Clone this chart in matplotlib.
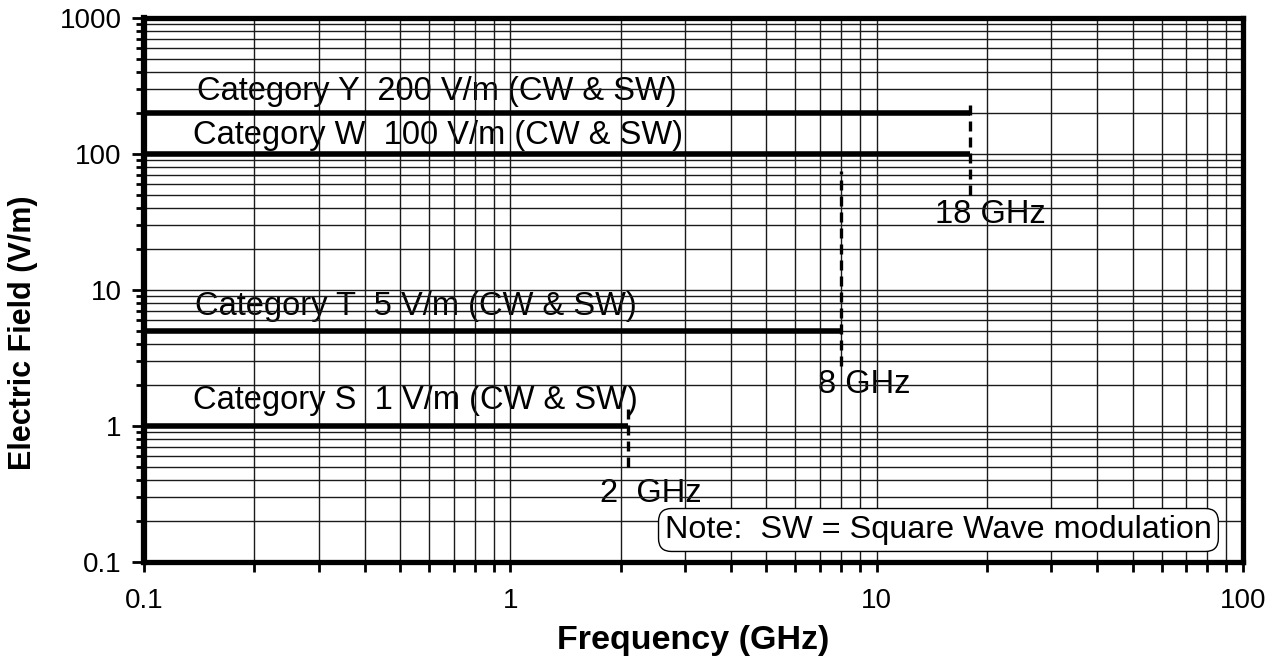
import matplotlib
matplotlib.use("Agg")
import matplotlib.pyplot as plt
from matplotlib.ticker import LogLocator, FixedLocator, FixedFormatter, NullFormatter

plt.rcParams['font.family'] = ['Liberation Sans', 'DejaVu Sans']

# Data
categories = ["Category Y  200 V/m (CW & SW)", "Category W  100 V/m (CW & SW)",
              "Category T  5 V/m (CW & SW)", "Category S  1 V/m (CW & SW)"]
field_levels = [200, 100, 5, 1]
freq_start = [0.1, 0.1, 0.1, 0.1]
freq_end = [18, 18, 8, 2.1]
# dashed cut-off markers: frequency, low and high field
cutoff_freq = [18, 8, 2.1]
cutoff_low = [50, 2.75, 0.5]
cutoff_high = [240, 75, 1.35]
cutoff_labels = ["18 GHz", "8 GHz", "2  GHz"]
x_ticks = [0.1, 1, 10, 100]
x_tick_labels = ["0.1", "1", "10", "100"]
y_ticks = [0.1, 1, 10, 100, 1000]
y_tick_labels = ["0.1", "1", "10", "100", "1000"]

fig = plt.figure(figsize=(12.79, 6.62), dpi=100)
ax = fig.add_axes([144/1279, 100/662, 1099/1279, 544/662])
ax.set_xscale('log')
ax.set_yscale('log')
ax.set_xlim(0.1, 100)
ax.set_ylim(0.1, 1000)

ax.xaxis.set_major_locator(FixedLocator(x_ticks))
ax.xaxis.set_major_formatter(FixedFormatter(x_tick_labels))
ax.xaxis.set_minor_locator(LogLocator(base=10, subs=range(2, 10)))
ax.xaxis.set_minor_formatter(NullFormatter())
ax.yaxis.set_major_locator(FixedLocator(y_ticks))
ax.yaxis.set_major_formatter(FixedFormatter(y_tick_labels))
ax.yaxis.set_minor_locator(LogLocator(base=10, subs=range(2, 10)))
ax.yaxis.set_minor_formatter(NullFormatter())

ax.grid(True, which='both', color='#1a1a1a', linewidth=1.0)

for sp in ['top', 'bottom', 'right']:
    ax.spines[sp].set_linewidth(3.8)
ax.spines['left'].set_linewidth(4.5)

ax.tick_params(axis='y', which='major', length=9, width=2, pad=7, labelsize=20, direction='out')
ax.tick_params(axis='y', which='minor', length=6, width=2, direction='out')
ax.tick_params(axis='x', which='major', length=7, width=2, pad=12, labelsize=20, direction='out')
ax.tick_params(axis='x', which='minor', length=7, width=2, direction='out')

for f0, f1, lvl in zip(freq_start, freq_end, field_levels):
    ax.plot([f0, f1], [lvl, lvl], color='black', linewidth=4, solid_capstyle='butt', zorder=3)

for f, lo, hi in zip(cutoff_freq, cutoff_low, cutoff_high):
    ax.plot([f, f], [lo, hi], color='black', linewidth=2.4, linestyle=(0, (3, 1.8)), zorder=3)

text_pos = [(0.0482, 0.8658), (0.0446, 0.7831), (0.0464, 0.4688), (0.0446, 0.2960)]
for (tx, ty), lab in zip(text_pos, categories):
    ax.text(tx, ty, lab, transform=ax.transAxes, fontsize=23.5, va='center', ha='left', zorder=1)

cut_pos = [(0.7198, 0.6397), (0.6133, 0.3272), (0.4149, 0.125)]
for (tx, ty), lab in zip(cut_pos, cutoff_labels):
    ax.text(tx, ty, lab, transform=ax.transAxes, fontsize=23.5, va='center', ha='left', zorder=1)

ax.text((665-144)/1099, (562-530)/544, "Note:  SW = Square Wave modulation", transform=ax.transAxes,
        fontsize=23.3, va='center', ha='left', zorder=5,
        bbox=dict(boxstyle='round,pad=0.2,rounding_size=0.4', facecolor='white', edgecolor='black', linewidth=1.0))

ax.set_xlabel("Frequency (GHz)", fontsize=24.5, fontweight='bold')
ax.xaxis.set_label_coords(0.5, (562-640)/544)
ax.set_ylabel("Electric Field (V/m)", fontsize=22, fontweight='bold')
ax.yaxis.set_label_coords((23-144)/1099, (562-333)/544)
ax.yaxis.label.set_va('center')
ax.xaxis.label.set_va('center')

fig.savefig("out.png", dpi=100)
